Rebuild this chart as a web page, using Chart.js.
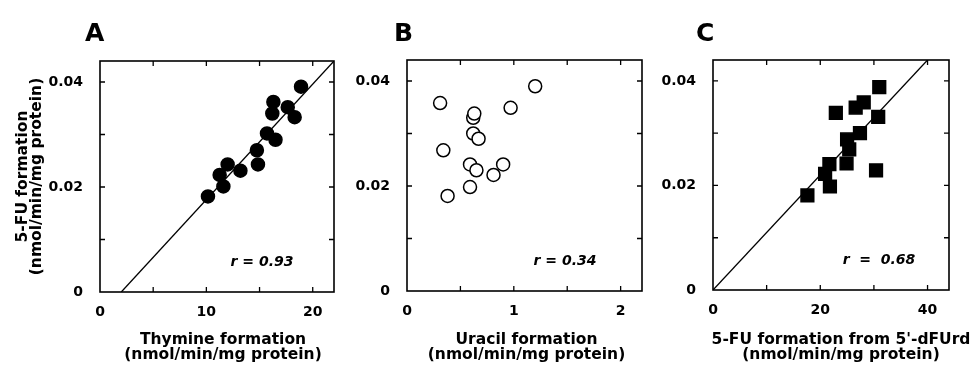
<!DOCTYPE html>
<html>
<head>
<meta charset="UTF-8">
<title>5-FU formation correlations</title>
<script src="https://cdn.jsdelivr.net/npm/chart.js"></script>
<style>
  body { margin:0; background:#fff; width:973px; height:367px; position:relative; overflow:hidden; }
  canvas { position:absolute; top:0; }
</style>
</head>
<body>
<canvas id="chartA" width="345" height="367" style="left:0"></canvas>
<canvas id="chartB" width="305" height="367" style="left:345px"></canvas>
<canvas id="chartC" width="323" height="367" style="left:650px"></canvas>
<script>
// panel A: thymine formation vs 5-FU formation
const thymineX = [10.15, 11.25, 11.6, 12.0, 13.2, 14.75, 14.85, 15.7, 16.5, 16.3, 16.2, 17.65, 18.3, 18.9];
const fuA      = [0.0182, 0.0223, 0.0201, 0.0243, 0.0231, 0.0270, 0.0243, 0.0302, 0.0290, 0.0362, 0.0340, 0.0352, 0.0333, 0.0391];
const fitA_x = [2, 22];
const fitA_y = [0, 0.044];

// panel B: uracil formation vs 5-FU formation
const uracilX = [0.31, 0.34, 0.38, 0.62, 0.63, 0.62, 0.67, 0.59, 0.65, 0.59, 0.81, 0.90, 0.97, 1.20];
const fuB     = [0.0358, 0.0268, 0.0181, 0.0330, 0.0338, 0.0300, 0.0290, 0.0241, 0.0230, 0.0198, 0.0221, 0.0241, 0.0349, 0.0390];

// panel C: 5-FU formation from 5'-dFUrd vs 5-FU formation
const dfurdX = [17.6, 22.9, 26.6, 28.1, 31.0, 30.8, 27.4, 25.0, 25.4, 24.9, 21.7, 20.9, 21.8, 30.4];
const fuC    = [0.0181, 0.0339, 0.0349, 0.0359, 0.0388, 0.0331, 0.0300, 0.0288, 0.0269, 0.0242, 0.0241, 0.0222, 0.0198, 0.0229];
const fitC_x = [0, 40];
const fitC_y = [0, 0.044];

// tick labels
const yLabelTicks  = [0, 0.02, 0.04];
const xLabelTicksA = [0, 10, 20];
const xLabelTicksB = [0, 1, 2];
const xLabelTicksC = [0, 20, 40];

const FONT = '"DejaVu Sans", Verdana, sans-serif';
const pts = (xs, ys) => xs.map((x, i) => ({x: x, y: ys[i]}));
const isLabel = (list, v) => list.some(l => Math.abs(l - v) < 1e-9);

const framePlugin = {
  id: 'frame',
  beforeDatasetsDraw(chart) {
    const {ctx, chartArea: a, scales: {x, y}} = chart;
    ctx.save();
    ctx.strokeStyle = '#000';
    ctx.lineWidth = 1.6;
    ctx.strokeRect(a.left, a.top, a.right - a.left, a.bottom - a.top);
    ctx.lineWidth = 1.3;
    ctx.beginPath();
    x.ticks.forEach(t => {
      const px = x.getPixelForValue(t.value);
      if (px <= a.left + 1 || px >= a.right - 1) return;
      ctx.moveTo(px, a.bottom); ctx.lineTo(px, a.bottom - 5);
      ctx.moveTo(px, a.top); ctx.lineTo(px, a.top + 5);
    });
    y.ticks.forEach(t => {
      const py = y.getPixelForValue(t.value);
      if (py >= a.bottom - 1 || py <= a.top + 1) return;
      ctx.moveTo(a.left, py); ctx.lineTo(a.left + 5, py);
      ctx.moveTo(a.right, py); ctx.lineTo(a.right - 5, py);
    });
    ctx.stroke();
    ctx.restore();
  },
  afterDraw(chart, args, opts) {
    const {ctx, chartArea: a} = chart;
    ctx.save();
    ctx.fillStyle = '#000';
    ctx.textBaseline = 'middle';
    ctx.textAlign = 'center';
    ctx.font = 'italic bold 14px ' + FONT;
    ctx.fillText(opts.note, a.right + opts.noteDx, a.bottom + opts.noteDy);
    // x axis title, two lines (drawn here so the long one is not squeezed)
    ctx.font = 'bold 15.5px ' + FONT;
    const cx = (a.left + a.right) / 2 + opts.titleDx;
    opts.xTitle.forEach((line, i) => ctx.fillText(line, cx, 340 + i * 15));
    ctx.textAlign = 'left';
    ctx.font = 'bold 25px ' + FONT;
    ctx.fillText(opts.letter, a.left + opts.letterDx, 34);
    ctx.restore();
  }
};

function makeChart(id, cfg) {
  const datasets = [{
    type: 'scatter',
    data: pts(cfg.xs, cfg.ys),
    pointStyle: cfg.style,
    pointRadius: cfg.radius,
    pointHoverRadius: cfg.radius,
    backgroundColor: cfg.fill,
    borderColor: '#000',
    borderWidth: 1.5
  }];
  if (cfg.fitX) {
    datasets.push({
      type: 'line',
      data: pts(cfg.fitX, cfg.fitY),
      borderColor: '#000',
      borderWidth: 1.3,
      pointRadius: 0,
      fill: false
    });
  }
  return new Chart(document.getElementById(id), {
    type: 'scatter',
    data: { datasets: datasets },
    plugins: [framePlugin],
    options: {
      responsive: false,
      animation: false,
      layout: { padding: { top: cfg.top, right: cfg.right, left: 0, bottom: 0 } },
      plugins: {
        legend: { display: false },
        tooltip: { enabled: false },
        frame: {
          note: cfg.note, noteDx: cfg.noteDx, noteDy: -30,
          letter: cfg.letter, letterDx: cfg.letterDx,
          xTitle: [cfg.xTitle, '(nmol/min/mg protein)'], titleDx: cfg.titleDx
        }
      },
      scales: {
        x: {
          type: 'linear',
          min: 0, max: cfg.xMax,
          grid: { display: false },
          border: { display: false },
          afterFit: s => { s.height = cfg.xHeight; },
          ticks: {
            stepSize: cfg.xStep,
            includeBounds: false,
            autoSkip: false,
            maxRotation: 0,
            padding: 4,
            color: '#000',
            font: { family: FONT, size: 14, weight: 'bold' },
            callback: v => isLabel(cfg.xLabels, v) ? String(v) : ''
          }
        },
        y: {
          type: 'linear',
          min: 0, max: 0.044,
          grid: { display: false },
          border: { display: false },
          afterFit: s => { s.width = cfg.yWidth; },
          ticks: {
            stepSize: 0.01,
            includeBounds: false,
            autoSkip: false,
            padding: 9,
            color: '#000',
            font: { family: FONT, size: 14, weight: 'bold' },
            callback: v => isLabel(yLabelTicks, v) ? (v === 0 ? '0' : v.toFixed(2)) : ''
          },
          title: {
            display: !!cfg.yTitle,
            text: ['5-FU formation', '(nmol/min/mg protein)'],
            color: '#000',
            font: { family: FONT, size: 15.5, weight: 'bold', lineHeight: 0.92 },
            padding: { top: 16, bottom: 0 }
          }
        }
      }
    }
  });
}

makeChart('chartA', {
  xs: thymineX, ys: fuA, style: 'circle', radius: 6.5, fill: '#000',
  fitX: fitA_x, fitY: fitA_y,
  xMax: 22, xStep: 5, xLabels: xLabelTicksA, xTitle: 'Thymine formation', titleDx: 6,
  top: 61, right: 11, yWidth: 100, xHeight: 75, yTitle: true,
  note: 'r = 0.93', noteDx: -72, letter: 'A', letterDx: -15
});

makeChart('chartB', {
  xs: uracilX, ys: fuB, style: 'circle', radius: 6.5, fill: '#fff',
  xMax: 2.2, xStep: 0.5, xLabels: xLabelTicksB, xTitle: 'Uracil formation', titleDx: 2,
  top: 60, right: 8, yWidth: 62, xHeight: 76, yTitle: false,
  note: 'r = 0.34', noteDx: -77, letter: 'B', letterDx: -13
});

makeChart('chartC', {
  xs: dfurdX, ys: fuC, style: 'rect', radius: 9, fill: '#000',
  fitX: fitC_x, fitY: fitC_y,
  xMax: 44, xStep: 10, xLabels: xLabelTicksC, xTitle: "5-FU formation from 5'-dFUrd", titleDx: 10,
  top: 60, right: 24, yWidth: 63, xHeight: 77, yTitle: false,
  note: 'r  =  0.68', noteDx: -70, letter: 'C', letterDx: -17
});
</script>
</body>
</html>
